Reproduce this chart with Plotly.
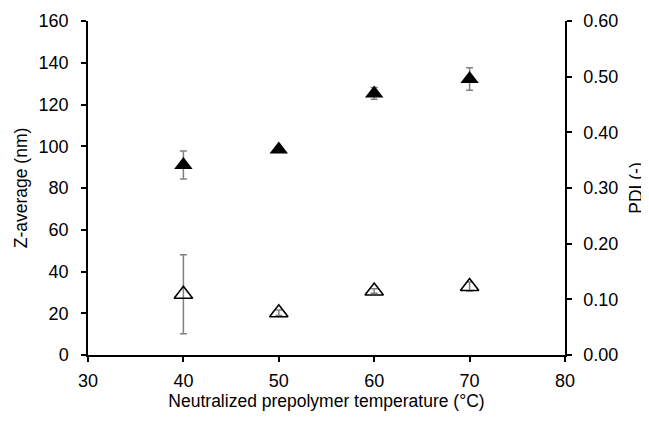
import plotly.graph_objects as go

temperature = [40, 50, 60, 70]
z_average = [91.0, 98.5, 125.3, 132.2]
z_error = [6.7, 0.8, 2.8, 5.4]
pdi = [0.109, 0.076, 0.115, 0.123]
pdi_error = [0.071, 0.005, 0.004, 0.008]

FONT = "Liberation Sans"
ERR = dict(type="data", visible=True, color="#808080", thickness=1.5, width=3.5)

fig = go.Figure()
fig.add_trace(go.Scatter(
    x=temperature, y=z_average, mode="markers", name="Z-average",
    marker=dict(symbol="triangle-up", size=16, color="black"),
    error_y=dict(array=z_error, **ERR), yaxis="y",
))
fig.add_trace(go.Scatter(
    x=temperature, y=pdi, mode="markers", name="PDI",
    marker=dict(symbol="triangle-up-open", size=16, color="black",
                line=dict(color="black", width=1.6)),
    error_y=dict(array=pdi_error, **ERR), yaxis="y2",
))

axis_common = dict(showline=True, linecolor="black", linewidth=1.5, ticks="outside",
                   ticklen=5, tickwidth=1.5, tickcolor="black", showgrid=False,
                   zeroline=False, tickfont=dict(family=FONT, size=18, color="black"),
                   mirror=False, automargin=False)

fig.update_layout(
    width=641, height=413,
    margin=dict(l=80, r=84, t=13, b=66),
    paper_bgcolor="white", plot_bgcolor="white",
    showlegend=False,
    font=dict(family=FONT, size=17, color="black"),
    xaxis=dict(range=[30, 80], dtick=10, tick0=30, ticklabelstandoff=4,
               title=dict(text="Neutralized prepolymer temperature (°C)",
                          font=dict(family=FONT, size=17.5), standoff=4),
               **axis_common),
    yaxis=dict(range=[0, 160], dtick=20, ticklabelstandoff=9,
               title=dict(text="Z-average (nm)", font=dict(family=FONT, size=17.5), standoff=6),
               **axis_common),
    yaxis2=dict(range=[0, 0.6], dtick=0.1, tickformat=".2f", overlaying="y", side="right",
                ticklabelstandoff=8,
                title=dict(text="PDI (-)", font=dict(family=FONT, size=17.5), standoff=12),
                **axis_common),
)

fig.write_html("out.html")
